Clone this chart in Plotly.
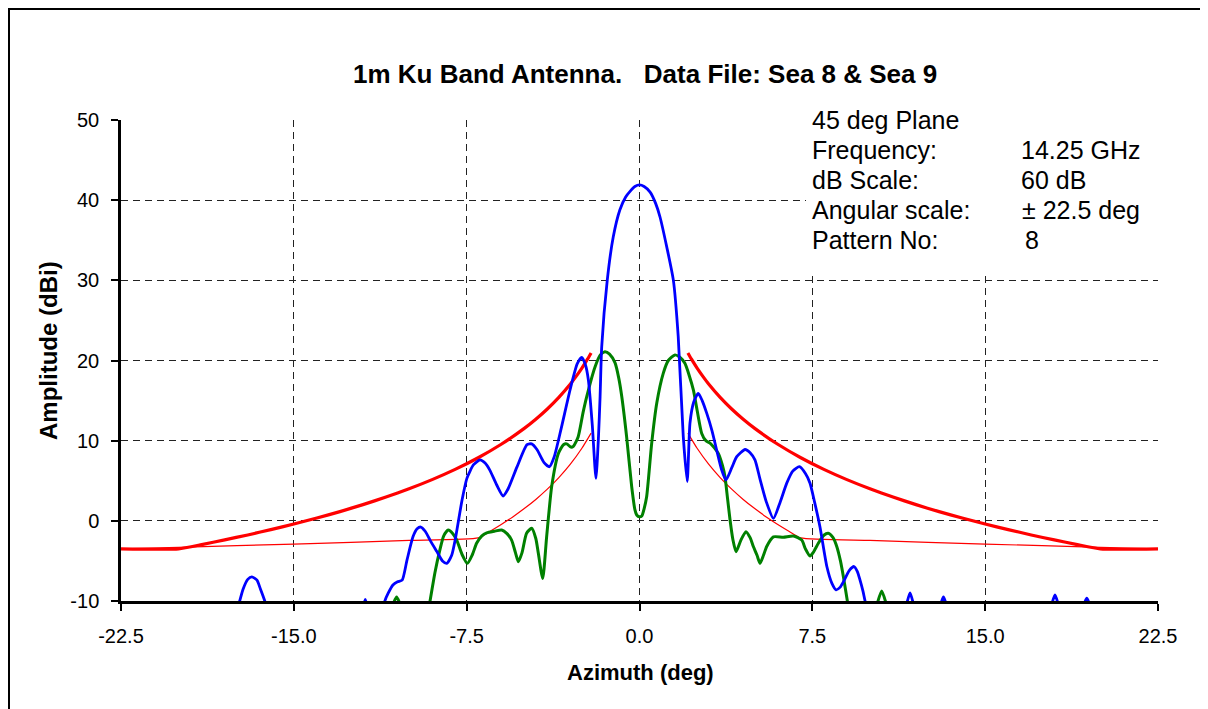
import plotly.graph_objects as go

# ---------------- data ----------------
title_text = "1m Ku Band Antenna.   Data File: Sea 8 & Sea 9"
x_tick_vals = [-22.5, -15.0, -7.5, 0.0, 7.5, 15.0, 22.5]
x_tick_text = ["-22.5", "-15.0", "-7.5", "0.0", "7.5", "15.0", "22.5"]
y_tick_vals = [-10, 0, 10, 20, 30, 40, 50]
y_tick_text = ["-10", "0", "10", "20", "30", "40", "50"]

info_labels = ["45 deg Plane", "Frequency:", "dB Scale:", "Angular scale:", "Pattern No:"]
info_values = ["", "14.25 GHz", "60 dB", "\u00b1 22.5 deg", "8"]

# co-polar (blue) pattern, None = gap (below -10 dB)
co_angle = [-17.45, -17.35, -17.2, -17.0, -16.82, -16.6, -16.45, -16.26, -16.15, None,
            -11.95, -11.9, -11.85, None,
            -11.1, -11.05, -10.9, -10.7, -10.5, -10.3, -10.09, -9.83, -9.65, -9.49, -9.3, -9.09,
            -8.8, -8.55, -8.36, -8.15, -8.0, -7.7, -7.49, -7.2, -6.92, -6.7, -6.49, -6.2, -5.92,
            -5.7, -5.32, -4.88, -4.68, -4.45, -4.15, -3.91, -3.7, -3.4, -3.0, -2.7, -2.51, -2.35,
            -2.22, -2.05, -1.89, -1.78, -1.71, -1.64, -1.4, -1.14, -0.85, -0.6, -0.41, -0.2, 0.0,
            0.2, 0.46, 0.7, 0.89, 1.18, 1.47, 1.68, 1.9, 2.07, 2.19, 2.35, 2.55, 2.72, 2.92, 3.15,
            3.35, 3.55, 3.75, 4.0, 4.22, 4.58, 4.8, 5.01, 5.23, 5.5, 5.81, 6.1, 6.39, 6.65, 6.94,
            7.2, 7.4, 7.6, 7.83, 8.13, 8.35, 8.53, 8.7, 8.85, 9.1, 9.31, 9.45, 9.57, 9.7, 9.79, 9.9,
            None, 11.6, 11.74, 11.88, None, 13.08, 13.19, 13.3, None,
            17.9, 18.03, 18.16, None, 19.3, 19.41, 19.52]
co_amp = [-11, -10, -8.5, -7.3, -7.0, -7.4, -8.5, -10, -11, None,
          -10.3, -9.8, -10.3, None,
          -10.8, -10, -9.0, -8.0, -7.6, -7.4, -4.9, -2.0, -1.0, -0.77, -1.3, -2.4,
          -3.8, -5.0, -5.3, -4.3, -2.4, 2.6, 5.3, 7.0, 7.6, 7.2, 6.3, 4.5, 3.1,
          4.0, 6.7, 9.5, 9.6, 8.9, 7.3, 6.75, 8.0, 11.5, 16.5, 19.6, 20.4, 19.5,
          17.6, 12.0, 5.3, 10.5, 15.5, 21.7, 30.0, 35.4, 38.8, 40.4, 41.1, 41.7, 41.9,
          41.7, 41.0, 39.6, 37.9, 34.2, 30.0, 23.0, 10.5, 4.9, 12.2, 14.8, 15.9, 15.0, 13.4, 11.2,
          8.8, 6.5, 5.1, 6.6, 8.0, 8.9, 8.5, 7.6, 5.2, 2.4, 0.3, 2.3, 4.7, 6.2, 6.75,
          5.9, 4.7, 2.3, -0.73, -5.7, -7.8, -8.6, -8.3, -7.6, -6.2, -5.7, -6.3, -7.4, -8.8, -10, -11,
          None, -10.3, -9.0, -10.3, None, -10.3, -9.5, -10.3, None,
          -10.3, -9.25, -10.3, None, -10.3, -9.66, -10.3]

# cross-polar (green) pattern
cx_angle = [-10.68, -10.54, -10.4, None,
            -9.15, -9.09, -8.88, -8.66, -8.5, -8.3, -8.1, -7.93, -7.7, -7.47, -7.25, -7.07, -6.85,
            -6.63, -6.3, -5.98, -5.75, -5.55, -5.38, -5.26, -5.1, -4.9, -4.68, -4.5, -4.39, -4.2,
            -4.03, -3.81, -3.52, -3.3, -3.16, -2.98, -2.87, -2.66, -2.45, -2.29, -1.93, -1.7, -1.5,
            -1.3, -1.06, -0.9, -0.77, -0.56, -0.34, -0.2, -0.12, 0.0, 0.1, 0.2, 0.31, 0.53, 0.75,
            1.03, 1.25, 1.54, 1.75, 1.97, 2.15, 2.34, 2.5, 2.7, 2.88, 3.06, 3.25, 3.42, 3.6, 3.71,
            3.82, 3.93, 4.05, 4.19, 4.4, 4.62, 4.8, 4.94, 5.1, 5.23, 5.38, 5.52, 5.81, 6.24, 6.68,
            7.04, 7.2, 7.4, 7.55, 7.76, 8.0, 8.19, 8.4, 8.56, 8.72, 8.85, 9.02, 9.08, None,
            10.32, 10.51, 10.7]
cx_amp = [-10.3, -9.5, -10.3, None,
          -10.8, -10, -6.5, -3.6, -1.9, -1.14, -1.6, -2.4, -4.2, -5.3, -4.2, -2.8, -1.9,
          -1.5, -1.3, -1.14, -1.6, -2.4, -4.0, -5.1, -4.0, -1.55, -0.93, -2.2, -4.05, -7.2,
          -2.0, 4.3, 8.4, 9.5, 9.6, 9.2, 9.3, 10.5, 13.5, 15.5, 19.2, 20.7, 21.1,
          20.8, 19.7, 17.8, 15.5, 10.5, 4.3, 1.4, 0.73, 0.5, 0.6, 1.5, 3.0, 9.7, 14.7,
          18.4, 20.0, 20.7, 20.4, 19.65, 18.2, 16.3, 13.8, 10.9, 10.0, 9.7, 9.1, 8.4, 6.9, 5.5,
          2.8, 0.1, -2.3, -3.85, -2.4, -1.35, -2.1, -3.2, -4.3, -5.3, -4.3, -3.2, -2.0, -2.05, -1.9,
          -2.4, -3.5, -4.4, -3.9, -2.8, -1.8, -1.55, -2.1, -3.2, -5.0, -7.0, -10, -11, None,
          -10.3, -8.75, -10.3]

# co-polar envelope (thick red), one side, off-axis angle in deg
env_angle = [2.1, 2.25, 2.5, 2.75, 3.0, 3.5, 4.0, 4.5, 5.0, 6.0, 7.0, 8.0, 9.0, 10.0, 11.0,
             12.0, 13.0, 14.0, 15.0, 16.0, 17.0, 18.0, 19.0, 20.0, 22.5]
env_amp = [20.94, 20.20, 19.05, 18.02, 17.07, 15.40, 13.95, 12.67, 11.53, 9.55, 7.87, 6.42,
           5.14, 4.00, 2.97, 2.02, 1.15, 0.35, -0.40, -1.10, -1.76, -2.38, -2.97, -3.50, -3.50]

# cross-polar envelope (thin red), one side
xenv_angle = [2.1, 2.5, 3.0, 3.5, 4.0, 4.5, 5.0, 5.5, 6.0, 6.5, 7.0, 10.0, 15.0, 20.0, 22.5]
xenv_amp = [10.94, 9.05, 7.07, 5.40, 3.95, 2.67, 1.53, 0.49, -0.45, -1.32, -2.13, -2.45,
            -2.90, -3.30, -3.50]


def mirrored(angles, amps):
    xs = [-a for a in reversed(angles)] + [None] + list(angles)
    ys = list(reversed(amps)) + [None] + list(amps)
    return xs, ys


env_x, env_y = mirrored(env_angle, env_amp)
xenv_x, xenv_y = mirrored(xenv_angle, xenv_amp)

# ---------------- figure ----------------
OFF = 8                      # page body margin of the browser
W, H = 1208 - OFF, 709 - OFF
PL, PT, PW, PH = 121, 120, 1037, 481   # plot area in screen pixels
L, T = PL - OFF, PT - OFF
R, B = W - L - PW, H - T - PH


def px(x):
    return (x - PL) / PW


def py(y):
    return (PT + PH - y) / PH


FONT = "Arial, Liberation Sans, sans-serif"

fig = go.Figure()
fig.add_trace(go.Scatter(x=xenv_x, y=xenv_y, mode="lines",
                         line=dict(color="#FF0000", width=1.2, shape="spline", smoothing=0.5),
                         connectgaps=False))
fig.add_trace(go.Scatter(x=env_x, y=env_y, mode="lines",
                         line=dict(color="#FF0000", width=3.2, shape="spline", smoothing=0.5),
                         connectgaps=False))
fig.add_trace(go.Scatter(x=cx_angle, y=cx_amp, mode="lines",
                         line=dict(color="#008000", width=3, shape="spline", smoothing=0.6),
                         connectgaps=False))
fig.add_trace(go.Scatter(x=co_angle, y=co_amp, mode="lines",
                         line=dict(color="#0000FF", width=2.8, shape="spline", smoothing=0.6),
                         connectgaps=False))

annotations = []
annotations.append(dict(text="<b>" + title_text + "</b>", x=px(645), y=py(74), xref="paper",
                        yref="paper", showarrow=False, xanchor="center", yanchor="middle",
                        font=dict(family=FONT, size=26, color="black")))
annotations.append(dict(text="<b>Azimuth (deg)</b>", x=px(640), y=py(672), xref="paper",
                        yref="paper", showarrow=False, xanchor="center", yanchor="middle",
                        font=dict(family=FONT, size=22, color="black")))
annotations.append(dict(text="<b>Amplitude (dBi)</b>", x=px(48), y=py(351), xref="paper",
                        yref="paper", showarrow=False, xanchor="center", yanchor="middle",
                        textangle=-90, font=dict(family=FONT, size=24, color="black")))

label_y = [120, 150, 180, 210, 240]
value_x = [0, 1019, 1019, 1020, 1023]
for lab, val, yy, vx in zip(info_labels, info_values, label_y, value_x):
    annotations.append(dict(text=lab, x=px(810), y=py(yy), xref="paper", yref="paper",
                            showarrow=False, xanchor="left", yanchor="middle",
                            font=dict(family=FONT, size=25, color="black")))
    if val:
        annotations.append(dict(text=val, x=px(vx), y=py(yy), xref="paper", yref="paper",
                                showarrow=False, xanchor="left", yanchor="middle",
                                font=dict(family=FONT, size=25, color="black")))

shapes = [
    # white box behind the info text
    dict(type="rect", xref="paper", yref="paper", x0=px(806), x1=px(1162), y0=py(272),
         y1=py(103), fillcolor="white", line=dict(width=0), layer="above"),
    # outer frame
    dict(type="rect", xref="paper", yref="paper", x0=px(OFF + 1), x1=px(1203), y0=py(730),
         y1=py(OFF + 1), fillcolor="rgba(0,0,0,0)", line=dict(color="black", width=2),
         layer="above"),
]

fig.update_layout(
    width=W, height=H, autosize=False,
    margin=dict(l=L, r=R, t=T, b=B, pad=0),
    paper_bgcolor="white", plot_bgcolor="white",
    showlegend=False,
    annotations=annotations, shapes=shapes,
    font=dict(family=FONT, color="black"),
)
fig.update_xaxes(range=[-22.5, 22.5], tickvals=x_tick_vals, ticktext=x_tick_text,
                 showline=True, linecolor="black", linewidth=3, ticks="outside",
                 ticklen=7, tickwidth=2, tickcolor="black", ticklabelstandoff=8,
                 showgrid=True, gridcolor="#222", gridwidth=1, griddash="7px,5px",
                 zeroline=False, tickfont=dict(family=FONT, size=20, color="black"))
fig.update_yaxes(range=[-10, 50], tickvals=y_tick_vals, ticktext=y_tick_text,
                 showline=True, linecolor="black", linewidth=2.5, ticks="outside",
                 ticklen=7, tickwidth=2, tickcolor="black", ticklabelstandoff=8,
                 showgrid=True, gridcolor="#222", gridwidth=1, griddash="7px,5px",
                 zeroline=False, tickfont=dict(family=FONT, size=20, color="black"))

fig.write_html("out.html")
